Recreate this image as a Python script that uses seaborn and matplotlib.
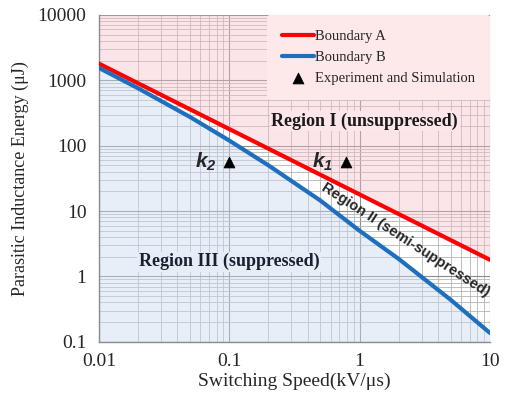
import numpy as np
import pandas as pd
import matplotlib
matplotlib.use('Agg')
import matplotlib.pyplot as plt
import seaborn as sns
from matplotlib.ticker import FixedLocator, FixedFormatter, LogLocator, NullFormatter

'''
Data read off the chart
'''
speed = [0.01, 0.02, 0.05, 0.1, 0.2, 0.5, 1, 2, 5, 10]
boundary_a = [1800, 900, 360, 180, 90, 36, 18, 9, 3.6, 1.8]
boundary_b = [1550, 755, 275, 120, 50, 14.5, 5.0, 1.85, 0.44, 0.137]
exp_speed = [0.1, 0.79]
exp_energy = [57, 57]
exp_names = ['k_2', 'k_1']

x_ticks = [0.01, 0.1, 1, 10]
x_tick_labels = ['0.01', '0.1', '1', '10']
y_ticks = [0.1, 1, 10, 100, 1000, 10000]
y_tick_labels = ['0.1', '1', '10', '100', '1000', '10000']

'''
Plot
'''
sns.set_style('white')
plt.rcParams['font.family'] = ['Liberation Serif', 'DejaVu Serif']
plt.rcParams['mathtext.fontset'] = 'custom'
plt.rcParams['mathtext.it'] = 'Liberation Sans:bold:italic'
plt.rcParams['mathtext.rm'] = 'Liberation Sans:bold:italic'

df = pd.DataFrame({'speed': speed, 'A': boundary_a, 'B': boundary_b})
df_exp = pd.DataFrame({'speed': exp_speed, 'energy': exp_energy})

fig, ax = plt.subplots(figsize=(5.05, 4.05), dpi=100)
fig.subplots_adjust(left=0.196, right=0.970, bottom=0.156, top=0.963)

ax.set_xscale('log')
ax.set_yscale('log')
ax.set_xlim(0.01, 10)
ax.set_ylim(0.1, 10000)

# grid first, fills on top with transparency
ax.set_axisbelow(True)
ax.grid(True, which='major', color='#8c8c8c', linewidth=0.8)
ax.grid(True, which='minor', color='#b4b4b4', linewidth=0.6)

ax.fill_between(df['speed'], df['A'], 10000, color='#f9c0c8', alpha=0.4, lw=0, zorder=2)
ax.fill_between(df['speed'], 0.1, df['B'], color='#cddbf0', alpha=0.45, lw=0, zorder=2)

sns.lineplot(data=df, x='speed', y='A', ax=ax, color='#ff0000', linewidth=3,
             label='Boundary A', zorder=4)
sns.lineplot(data=df, x='speed', y='B', ax=ax, color='#1f6fbf', linewidth=3,
             label='Boundary B', zorder=4)
sns.scatterplot(data=df_exp, x='speed', y='energy', ax=ax, marker='^', color='black',
                s=60, edgecolor='black', label='Experiment and Simulation', zorder=5)

for xs, ys, nm in zip(exp_speed, exp_energy, exp_names):
    ax.annotate('$' + nm + '$', (xs, ys), xytext=(-17, 0), textcoords='offset points',
                ha='center', va='center', fontsize=15, zorder=6)

ax.text(0.68, 0.675, 'Region I (unsuppressed)', transform=ax.transAxes, ha='center',
        va='center', fontsize=13, fontweight='bold', color='#1a1a1a', zorder=6,
        bbox=dict(facecolor='#fde6e9', edgecolor='none', pad=1))
ax.text(0.333, 0.245, 'Region III (suppressed)', transform=ax.transAxes, ha='center',
        va='center', fontsize=13, fontweight='bold', color='#1a2030', zorder=6,
        bbox=dict(facecolor='#e7edf7', edgecolor='none', pad=1))
ax.text(2.25, 3.6, 'Region II (semi-suppressed)', ha='center', va='center',
        rotation=-33, rotation_mode='anchor', fontsize=10.5, fontweight='bold',
        family=['Liberation Sans', 'DejaVu Sans'], zorder=6)

ax.xaxis.set_major_locator(FixedLocator(x_ticks))
ax.xaxis.set_major_formatter(FixedFormatter(x_tick_labels))
ax.yaxis.set_major_locator(FixedLocator(y_ticks))
ax.yaxis.set_major_formatter(FixedFormatter(y_tick_labels))
ax.xaxis.set_minor_locator(LogLocator(base=10, subs=np.arange(2, 10)))
ax.yaxis.set_minor_locator(LogLocator(base=10, subs=np.arange(2, 10)))
ax.xaxis.set_minor_formatter(NullFormatter())
ax.yaxis.set_minor_formatter(NullFormatter())

ax.tick_params(axis='x', which='both', length=0, labelsize=14, pad=8)
ax.tick_params(axis='y', which='major', length=5, color='#808080', labelsize=14, pad=4)
ax.tick_params(axis='y', which='minor', length=0)

for side in ['top', 'right']:
    ax.spines[side].set_visible(False)
for side in ['left', 'bottom']:
    ax.spines[side].set_color('#8c8c8c')
    ax.spines[side].set_linewidth(1)

ax.set_xlabel('Switching Speed(kV/μs)', fontsize=14, labelpad=2)
ax.set_ylabel('Parasitic Inductance Energy (μJ)', fontsize=13, labelpad=6)

leg = ax.legend(loc='upper right', fontsize=10.5, frameon=True, facecolor='#fde8ea',
                edgecolor='none', framealpha=1, borderaxespad=0, borderpad=1.0,
                handlelength=2.2, handletextpad=0.1, labelspacing=0.55)
leg.set_zorder(7)

fig.savefig('out.png', dpi=100)
